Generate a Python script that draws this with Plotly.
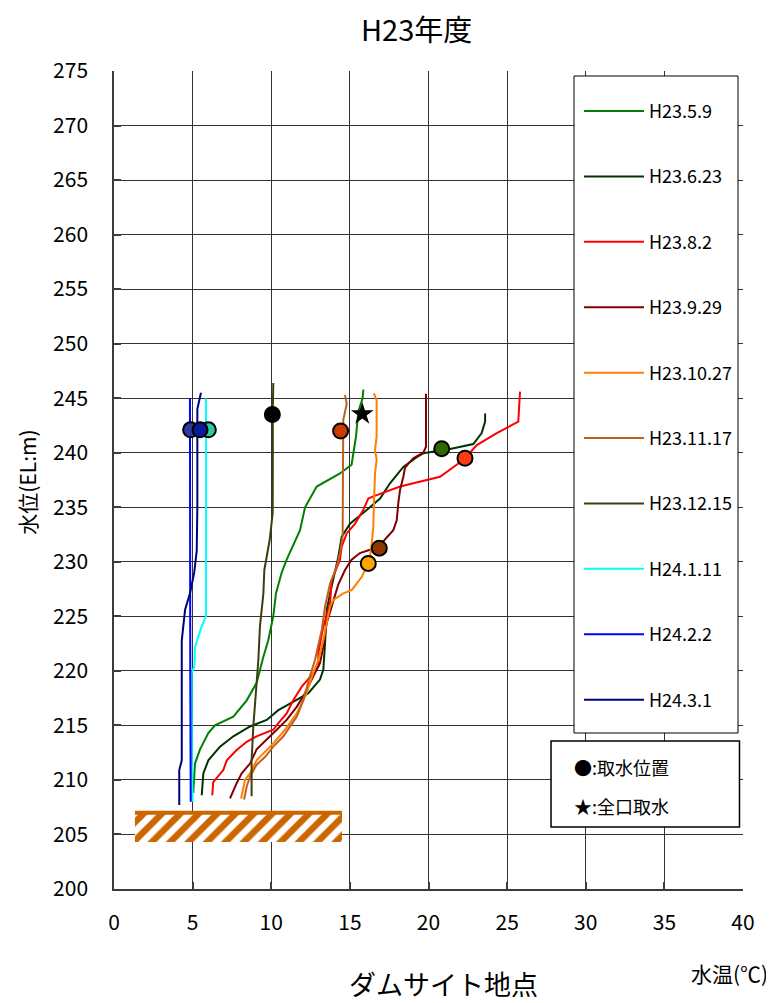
import plotly.graph_objects as go

# ---------------- data ----------------
series_names = ["H23.5.9", "H23.6.23", "H23.8.2", "H23.9.29", "H23.10.27",
                "H23.11.17", "H23.12.15", "H24.1.11", "H24.2.2", "H24.3.1"]

t_0509 = [15.86, 15.81, 15.54, 15.39, 15.11, 14.37, 12.89, 12.15, 11.83, 10.98, 10.66, 10.30,
          10.13, 9.81, 9.50, 9.07, 8.44, 7.59, 6.42, 6.0, 5.47, 5.15, 5.04]
el_0509 = [245.8, 245.0, 243.8, 241.5, 238.9, 238.1, 236.9, 235.0, 232.9, 230.2, 229.0, 227.1,
           225.0, 222.8, 221.3, 218.9, 217.3, 215.8, 215.0, 214.3, 212.8, 211.5, 208.8]

t_0623 = [23.6, 23.6, 23.38, 22.85, 21.37, 20.3, 19.67, 19.25, 18.4, 17.55, 16.92, 16.07, 15.01,
          14.48, 14.27, 13.74, 13.53, 13.42, 13.31, 13.1, 12.36, 11.19, 10.45, 9.71, 8.65, 7.59,
          6.74, 6.0, 5.68, 5.58]
el_0623 = [243.6, 242.85, 241.8, 240.8, 240.35, 240.1, 239.95, 239.6, 238.7, 237.2, 235.8, 234.75,
           233.5, 232.3, 230.5, 227.1, 225.6, 222.5, 220.1, 219.2, 217.95, 217.0, 216.4, 215.5,
           214.9, 214.0, 213.05, 211.8, 210.6, 208.6]

t_0802 = [25.82, 25.71, 24.34, 23.07, 22.32, 21.79, 20.73, 19.89, 18.19, 16.49, 16.17, 15.85,
          15.33, 14.8, 14.48, 14.37, 13.84, 13.74, 13.31, 12.99, 12.99, 12.57, 11.94, 11.4, 10.98,
          10.45, 10.13, 9.07, 8.44, 7.8, 7.17, 6.95, 6.31, 6.25]
el_0802 = [245.6, 242.85, 241.8, 240.7, 239.5, 238.9, 237.8, 237.5, 236.9, 236.0, 235.8, 234.75,
           233.5, 232.6, 231.4, 230.2, 228.3, 226.2, 224.05, 221.6, 220.4, 219.6, 218.55, 217.3,
           216.1, 215.2, 214.6, 214.0, 213.5, 212.75, 211.8, 210.9, 209.8, 208.6]

t_0929 = [19.84, 19.84, 19.67, 19.03, 18.72, 18.5, 18.4, 18.19, 18.08, 17.98, 17.76, 17.02, 16.28,
          15.64, 15.11, 14.69, 14.26, 13.95, 13.53, 13.31, 13.1, 12.67, 12.15, 11.62, 10.98, 10.35,
          9.71, 9.07, 8.65, 8.12, 7.8, 7.38]
el_0929 = [245.4, 240.55, 240.0, 239.5, 239.0, 238.6, 237.8, 236.6, 235.4, 233.8, 232.9, 231.7,
           231.1, 230.8, 230.2, 229.25, 227.9, 226.5, 224.4, 222.2, 220.7, 219.5, 217.95, 216.7,
           215.5, 214.6, 213.7, 212.8, 211.5, 210.6, 209.7, 208.3]

t_1027 = [16.53, 16.7, 16.7, 16.6, 16.7, 16.6, 16.53, 16.49, 16.39, 16.28, 16.07, 15.75, 15.11,
          14.58, 13.95, 13.74, 13.31, 12.99, 12.67, 12.25, 11.62, 10.87, 10.13, 9.5, 9.07, 8.65,
          8.33, 8.08]
el_1027 = [245.45, 244.8, 241.5, 240.25, 239.35, 238.1, 235.4, 233.2, 231.7, 230.5, 229.55, 228.6,
           227.4, 227.1, 226.5, 225.9, 222.8, 221.0, 219.8, 217.95, 216.1, 214.6, 213.35, 212.45,
           211.8, 210.6, 210.0, 208.3]

t_1117 = [14.69, 14.8, 14.58, 14.58, 14.54, 14.37, 14.16, 13.74, 13.42, 13.21, 12.99, 12.78, 12.46,
          12.04, 11.62, 10.77, 10.13, 9.6, 9.07, 8.65, 8.44, 8.27]
el_1117 = [245.3, 244.5, 243.0, 235.4, 232.3, 230.8, 229.55, 228.0, 225.9, 223.75, 222.2, 221.0,
           219.5, 217.3, 215.8, 214.0, 213.05, 212.1, 211.4, 210.3, 209.4, 208.2]

t_1215 = [10.13, 10.1, 10.1, 10.09, 9.9, 9.56, 9.5, 9.28, 9.18, 9.03, 8.86, 8.75, 8.75]
el_1215 = [246.4, 244.0, 240.0, 234.45, 232.0, 229.25, 227.1, 224.05, 221.0, 218.25, 214.9, 211.8, 208.5]

t_0111 = [5.85, 5.85, 5.85, 5.58, 5.15, 5.11, 4.94, 4.95, 5.0]
el_0111 = [245.0, 235.0, 225.0, 224.1, 222.2, 220.4, 219.8, 212.0, 208.0]

t_0202 = [4.83, 4.83, 4.85, 4.88]
el_0202 = [245.0, 230.0, 220.0, 208.0]

t_0301 = [5.53, 5.3, 5.3, 5.26, 5.1, 4.83, 4.52, 4.31, 4.31, 4.31, 4.15, 4.15]
el_0301 = [245.5, 244.0, 235.0, 231.0, 229.0, 227.1, 225.6, 222.8, 218.0, 211.8, 210.9, 207.7]

series_t = [t_0509, t_0623, t_0802, t_0929, t_1027, t_1117, t_1215, t_0111, t_0202, t_0301]
series_el = [el_0509, el_0623, el_0802, el_0929, el_1027, el_1117, el_1215, el_0111, el_0202, el_0301]

# intake positions (取水位置)
intake_series = ["H23.6.23", "H23.8.2", "H23.9.29", "H23.10.27", "H23.11.17",
                 "H23.12.15", "H24.2.2", "H24.1.11", "H24.3.1"]
intake_t = [20.84, 22.32, 16.87, 16.17, 14.41, 10.07, 4.87, 6.0, 5.47]
intake_el = [240.37, 239.5, 231.25, 229.85, 242.0, 243.5, 242.1, 242.1, 242.1]

# full-gate intake (全口取水)
star_series = "H23.5.9"
star_t = [15.79]
star_el = [243.55]

# sediment block (hatched)
block_t = [1.33, 14.5]
block_el = [204.3, 207.0]

x_ticks = [0, 5, 10, 15, 20, 25, 30, 35, 40]
y_ticks = [200, 205, 210, 215, 220, 225, 230, 235, 240, 245, 250, 255, 260, 265, 270, 275]

# ---------------- style ----------------
FONT = "Noto Sans CJK JP"
line_colors = ["#008000", "#003300", "#ff0000", "#800000", "#ff8000",
               "#c0601e", "#3d3d10", "#00ffff", "#0000ff", "#000080"]
intake_colors = ["#336600", "#ff3c10", "#8f3600", "#ffa500", "#cc3a00",
                 "#000000", "#2e3aa0", "#30c8a0", "#0a1a99"]

fig = go.Figure()

# hatched block
fig.add_trace(go.Bar(
    y=[(block_el[0] + block_el[1]) / 2], x=[block_t[1] - block_t[0]], base=[block_t[0]],
    width=[block_el[1] - block_el[0]], orientation="h",
    marker=dict(color="white", line=dict(width=0),
                pattern=dict(shape="/", fgcolor="#cc6600", bgcolor="white", fgopacity=1,
                             size=13, solidity=0.5)),
    showlegend=False, hoverinfo="skip"))

for name, t, el, c in zip(series_names, series_t, series_el, line_colors):
    fig.add_trace(go.Scatter(x=t, y=el, mode="lines", name=name, legendgroup=name,
                             line=dict(color=c, width=2)))

for s, t, el, c in zip(intake_series, intake_t, intake_el, intake_colors):
    fig.add_trace(go.Scatter(x=[t], y=[el], mode="markers", legendgroup=s, showlegend=False,
                             marker=dict(size=15, color=c, line=dict(color="black", width=2))))

fig.add_trace(go.Scatter(x=star_t, y=star_el, mode="markers", legendgroup=star_series,
                         showlegend=False, marker=dict(symbol="star", size=17, color="black")))

shapes = [
    dict(type="line", xref="x", yref="y", x0=block_t[0], x1=block_t[1], y0=block_el[1], y1=block_el[1],
         line=dict(color="#cc6600", width=4), layer="above"),
    dict(type="rect", xref="paper", yref="paper", x0=0.7313, x1=0.9921, y0=0.1907, y1=0.9939,
         fillcolor="white", line=dict(color="black", width=1), layer="above"),
    dict(type="rect", xref="paper", yref="paper", x0=0.6948, x1=0.9944, y0=0.0758, y1=0.1809,
         fillcolor="white", line=dict(color="black", width=1.5), layer="above"),
]

annotations = [
    dict(text="H23年度", xref="paper", yref="paper", x=0.4817, y=1.0525, xanchor="center",
         yanchor="middle", showarrow=False, font=dict(size=29, color="black", family=FONT)),
    dict(text="水位(EL:m)", xref="paper", yref="paper", x=-0.1388, y=0.4976, textangle=-90,
         xanchor="center", yanchor="middle", showarrow=False, font=dict(size=21, color="black", family=FONT)),
    dict(text="水温(℃)", xref="paper", yref="paper", x=1.043, y=-0.1027, xanchor="right",
         yanchor="middle", showarrow=False, font=dict(size=21, color="black", family=FONT)),
    dict(text="ダムサイト地点", xref="paper", yref="paper", x=0.5238, y=-0.1155, xanchor="center",
         yanchor="middle", showarrow=False, font=dict(size=27, color="black", family=FONT)),
    dict(text="●:取水位置", xref="paper", yref="paper", x=0.7281, y=0.1491, xanchor="left",
         yanchor="middle", showarrow=False, font=dict(size=18, color="black", family=FONT)),
    dict(text="★:全口取水", xref="paper", yref="paper", x=0.7281, y=0.1015, xanchor="left",
         yanchor="middle", showarrow=False, font=dict(size=18, color="black", family=FONT)),
]

axis_common = dict(showgrid=True, gridcolor="#333333", gridwidth=1, zeroline=False,
                   showline=True, linecolor="#3c3c3c", linewidth=1.5,
                   ticks="inside", ticklen=7, tickcolor="#3c3c3c", tickwidth=1.5,
                   tickfont=dict(size=21, color="black", family=FONT))

# the page body adds an 8px offset, so the figure is 8px smaller to fit the window
fig.update_layout(
    width=766, height=995,
    margin=dict(l=106, r=31, t=63, b=114),
    paper_bgcolor="white", plot_bgcolor="white",
    font=dict(family=FONT, color="black"),
    xaxis=dict(range=[0, 40], tickvals=x_ticks, ticklabelstandoff=14, **axis_common),
    yaxis=dict(range=[200, 275], tickvals=y_ticks, ticklabelstandoff=20, **axis_common),
    showlegend=True,
    legend=dict(x=0.7393, y=0.9733, xanchor="left", yanchor="top", bgcolor="rgba(0,0,0,0)",
                borderwidth=0, font=dict(size=18, color="black", family=FONT),
                tracegroupgap=39, itemwidth=60, traceorder="grouped"),
    shapes=shapes,
    annotations=annotations,
)

fig.write_html("out.html")
